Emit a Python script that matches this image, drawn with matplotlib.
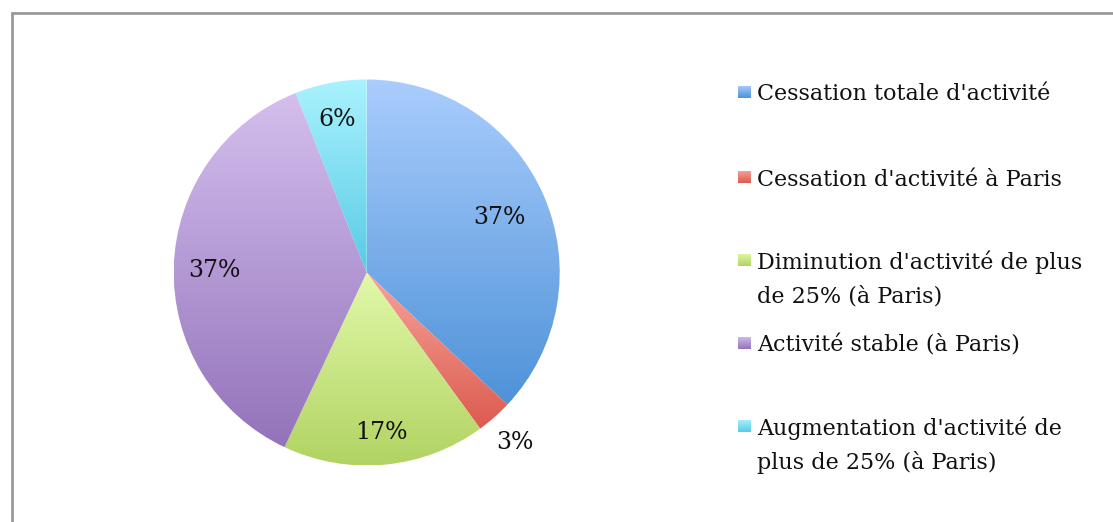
import numpy as np
import matplotlib
matplotlib.use("Agg")
import matplotlib.pyplot as plt
from matplotlib.colors import LinearSegmentedColormap
from matplotlib.patches import Rectangle

categories = [
    "Cessation totale d'activité",
    "Cessation d'activité à Paris",
    "Diminution d'activité de plus\nde 25% (à Paris)",
    "Activité stable (à Paris)",
    "Augmentation d'activité de\nplus de 25% (à Paris)",
]
shares = [37, 3, 17, 37, 6]

# light (top) / dark (bottom) colour of each slice's vertical gradient
top_colors = ["#aacdfd", "#f7a49c", "#e2f9aa", "#d4bfee", "#aaf2fe"]
bottom_colors = ["#4e92d8", "#dc5a4f", "#b1d362", "#9373ba", "#58cbe5"]

# radial position of each percentage label, as a fraction of the radius
label_r = [0.75, 1.16, 0.82, 0.79, 0.82]

FONT = "DejaVu Serif"
FS = 16
W, H = 1113, 522

fig = plt.figure(figsize=(W / 100, H / 100), dpi=100)
ax = fig.add_axes([0, 0, 1, 1])

cx, cy, r = 366.7, H - 272.5, 193.0

wedges, _ = ax.pie(shares, radius=r, center=(cx, cy), startangle=90,
                   counterclock=False, frame=True,
                   wedgeprops=dict(facecolor="none", edgecolor="none"))

grad = np.linspace(1, 0, 256).reshape(-1, 1)


def gradient_fill(patch, c_top, c_bottom, extent):
    cmap = LinearSegmentedColormap.from_list("g", [c_bottom, c_top])
    im = ax.imshow(grad, cmap=cmap, aspect="auto", origin="upper",
                   extent=extent, zorder=1, interpolation="bilinear")
    im.set_clip_path(patch)


for w, c0, c1 in zip(wedges, top_colors, bottom_colors):
    ext = w.get_path().get_extents()
    gradient_fill(w, c0, c1, (ext.x0, ext.x1, ext.y0, ext.y1))

# percentage labels
for w, v, f in zip(wedges, shares, label_r):
    ang = np.deg2rad((w.theta1 + w.theta2) / 2)
    ax.text(cx + f * r * np.cos(ang), cy + f * r * np.sin(ang), f"{v}%",
            ha="center", va="center_baseline", fontsize=17, family=FONT,
            color="#111111", zorder=3)

# legend
legend_y = [92, 177, 260, 343, 426]
line_gap = 34
for name, c0, c1, y in zip(categories, top_colors, bottom_colors, legend_y):
    yy = H - y
    sq = Rectangle((738, yy - 6.5), 13, 13, facecolor="none", edgecolor="none")
    ax.add_patch(sq)
    gradient_fill(sq, c0, c1, (738, 751, yy - 6.5, yy + 6.5))
    for i, line in enumerate(name.split("\n")):
        ax.text(757, yy - i * line_gap, line, ha="left", va="center_baseline",
                fontsize=FS, family=FONT, color="#111111")

ax.set_xlim(0, W)
ax.set_ylim(0, H)
ax.set_aspect("equal")
ax.axis("off")

# open chart border (top and left edges)
ax.plot([12, 12, W], [0, H - 12.5, H - 12.5], color="#999999", lw=2,
        solid_joinstyle="miter", zorder=4)

fig.savefig("out.png", dpi=100)
